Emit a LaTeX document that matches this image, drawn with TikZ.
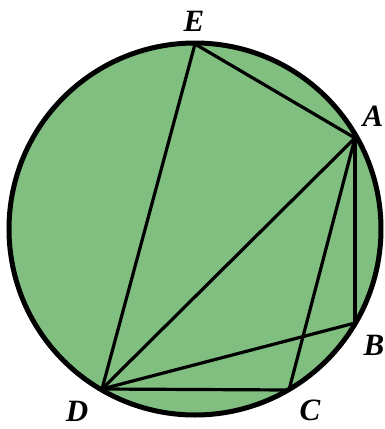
\documentclass[tikz,border=0pt]{standalone}
\usepackage{fontspec}
\setmainfont{Liberation Serif}
\begin{document}
\begin{tikzpicture}[x=1pt,y=-1pt,
  chord/.style={line width=3.2pt, line join=round, line cap=round},
  lbl/.style={font=\fontsize{31}{31}\selectfont\bfseries\itshape, inner sep=0pt}]
\useasboundingbox (0,0) rectangle (384,429);
\coordinate (O) at (195,229);
\fill[fill={rgb,255:red,128;green,191;blue,128}] (O) circle (186);
\coordinate (E) at (195,44);
\coordinate (A) at (355,138);
\coordinate (B) at (355,323);
\coordinate (C) at (289,390);
\coordinate (D) at (102,389);
\draw[chord] (E) -- (A);
\draw[chord] (E) -- (D);
\draw[chord] (A) -- (D);
\draw[chord] (A) -- (B);
\draw[chord] (A) -- (C);
\draw[chord] (D) -- (B);
\draw[chord] (D) -- (C);
\draw[line width=5pt] (O) circle (186);
\node[lbl] (lE) at (194,21) {E};
\node[lbl] (lA) at (373,116) {A};
\node[lbl] (lB) at (374,345) {B};
\node[lbl] (lC) at (310,410) {C};
\node[lbl] (lD) at (77,411) {D};
\end{tikzpicture}
\end{document}
